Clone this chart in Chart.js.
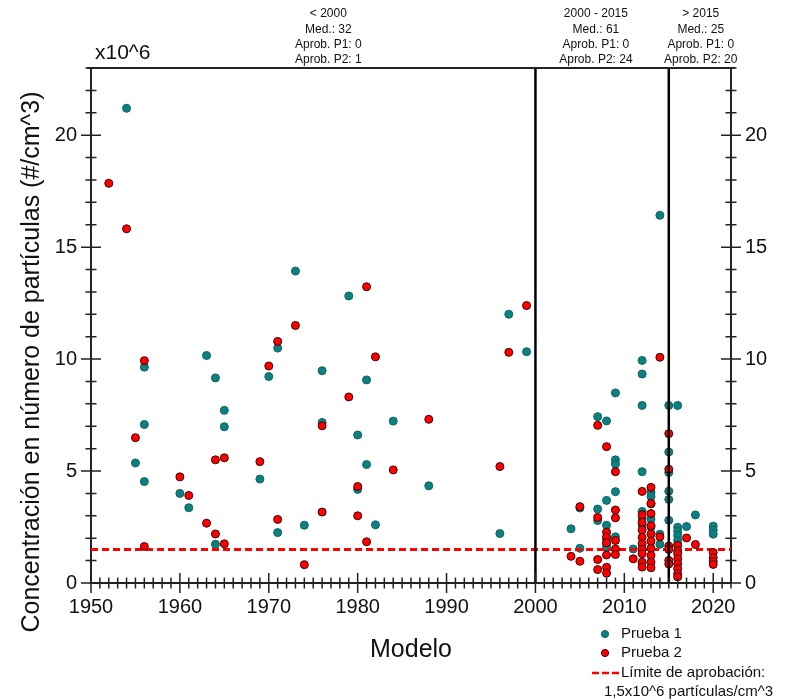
<!DOCTYPE html>
<html lang="es">
  <head>
    <meta charset="UTF-8" />
    <title>Concentración en número de partículas por modelo</title>
    <script src="https://cdn.jsdelivr.net/npm/chart.js"></script>
    <style>
      body { margin: 0; background: #ffffff; }
      #contenedor { width: 795px; height: 700px; }
    </style>
  </head>
  <body>
    <div id="contenedor"><canvas id="grafico"></canvas></div>

    <script>
      // Prueba 1: año del modelo y concentración (x10^6 #/cm^3)
      const modelosP1 = [
        1954, 1955, 1956, 1956, 1956, 1960, 1961, 1963, 1964, 1964, 1965, 1965,
        1969, 1970, 1971, 1971, 1973, 1974, 1976, 1976, 1979, 1980, 1980, 1981,
        1981, 1982, 1984, 1988, 1996, 1997, 1999,
        2004, 2005, 2005, 2007, 2007, 2007, 2008, 2008, 2008, 2008, 2008, 2008,
        2009, 2009, 2009, 2009, 2009, 2011, 2012, 2012, 2012, 2012, 2012, 2012,
        2012, 2013, 2013, 2013, 2013, 2013, 2014, 2014, 2014, 2015, 2015, 2015,
        2015, 2015, 2015, 2016, 2016, 2016, 2016, 2016, 2016, 2017, 2018, 2020,
        2020, 2020,
      ];
      const valoresP1 = [
        21.2, 5.36, 9.64, 7.08, 4.53, 4.0, 3.36, 10.16, 9.16, 1.73, 7.71, 6.98,
        4.64, 9.22, 10.49, 2.25, 13.93, 2.58, 9.48, 7.17, 12.82, 6.61, 4.18, 9.07,
        5.29, 2.6, 7.23, 4.34, 2.21, 12.0, 10.33,
        2.42, 3.35, 1.55, 7.43, 3.3, 2.79, 7.24, 3.69, 2.58, 1.95, 1.75, 1.6,
        8.49, 5.5, 5.31, 4.08, 2.06, 1.52, 9.94, 9.33, 7.93, 4.97, 3.19, 2.9,
        2.6, 4.05, 3.86, 3.53, 2.86, 2.5, 16.42, 2.18, 1.73, 7.93, 5.85, 4.93,
        4.1, 3.73, 2.8, 7.93, 2.49, 2.31, 2.12, 1.9, 1.7, 2.52, 3.04, 2.54,
        2.36, 2.18,
      ];

      // Prueba 2
      const modelosP2 = [
        1952, 1954, 1955, 1956, 1956, 1960, 1961, 1963, 1964, 1964, 1965, 1965,
        1969, 1970, 1971, 1971, 1973, 1974, 1976, 1976, 1979, 1980, 1980, 1981,
        1981, 1982, 1984, 1988, 1996, 1997, 1999,
        2004, 2005, 2005, 2007, 2007, 2007, 2007, 2008, 2008, 2008, 2008, 2008,
        2008, 2008, 2009, 2009, 2009, 2009, 2009, 2009, 2011, 2012, 2012, 2012,
        2012, 2012, 2012, 2012, 2012, 2012, 2012, 2013, 2013, 2013, 2013, 2013,
        2013, 2013, 2013, 2013, 2013, 2014, 2014, 2015, 2015, 2015, 2015, 2015,
        2015, 2016, 2016, 2016, 2016, 2016, 2016, 2016, 2016, 2017, 2018, 2020,
        2020, 2020, 2020,
      ];
      const valoresP2 = [
        17.85, 15.82, 6.49, 9.93, 1.63, 4.74, 3.91, 2.67, 5.5, 2.19, 5.59, 1.75,
        5.42, 9.69, 10.79, 2.84, 11.5, 0.82, 7.02, 3.17, 8.31, 4.31, 3.0, 13.23,
        1.84, 10.1, 5.05, 7.31, 5.2, 10.3, 12.39,
        1.19, 3.41, 0.97, 7.04, 2.93, 1.05, 0.6, 6.09, 2.27, 2.05, 1.8, 1.25,
        0.7, 0.44, 4.97, 3.26, 2.91, 1.9, 1.52, 1.27, 1.08, 4.09, 3.05, 2.71,
        2.37, 2.04, 1.75, 1.5, 1.31, 0.93, 0.71, 4.27, 3.56, 3.1, 2.56, 2.19,
        1.87, 1.55, 1.23, 0.93, 0.68, 10.08, 2.06, 6.67, 5.08, 1.65, 1.5, 1.01,
        0.85, 1.68, 1.45, 1.31, 1.08, 0.86, 0.64, 0.41, 0.27, 2.01, 1.72, 1.36,
        1.13, 0.96, 0.83,
      ];

      // límite de aprobación y cortes entre periodos
      const limiteAprobacion = 1.5;
      const cortesPeriodo = [2000, 2015];

      // resumen por periodo
      const periodos = ["< 2000", "2000 - 2015", "> 2015"];
      const mediciones = [32, 61, 25];
      const aprobadosP1 = [0, 0, 0];
      const aprobadosP2 = [1, 24, 20];

      const anioMin = 1950;
      const anioMax = 2022;
      const yMax = 23;

      Chart.defaults.font.family = "'Liberation Sans', Arial, sans-serif";
      Chart.defaults.color = "#111";

      function puntos(modelos, valores) {
        return modelos.map((m, i) => ({ x: m, y: valores[i] }));
      }

      // marcas de los ejes que cruzan la línea, marco superior y textos
      const marcasEjes = {
        id: "marcasEjes",
        afterDraw(chart) {
          const ctx = chart.ctx;
          const area = chart.chartArea;
          const { x, y, y2 } = chart.scales;

          ctx.save();
          ctx.strokeStyle = "#222";
          ctx.lineWidth = 1.5;
          ctx.beginPath();
          x.ticks.forEach((t) => {
            const px = x.getPixelForValue(t.value);
            const l = t.value % 10 === 0 ? 10 : 5.5;
            ctx.moveTo(px, area.bottom - l);
            ctx.lineTo(px, area.bottom + l);
          });
          [y, y2].forEach((eje) => {
            const bx = eje === y ? area.left : area.right;
            eje.ticks.forEach((t) => {
              const py = eje.getPixelForValue(t.value);
              const l = t.value % 5 === 0 ? 10 : 5.5;
              ctx.moveTo(bx - l, py);
              ctx.lineTo(bx + l, py);
            });
          });
          ctx.stroke();

          ctx.lineWidth = 2;
          ctx.beginPath();
          ctx.moveTo(area.left - 4, area.top);
          ctx.lineTo(area.right + 4, area.top);
          ctx.stroke();

          // factor de escala del eje
          ctx.fillStyle = "#111";
          ctx.font = "21px 'Liberation Sans', Arial";
          ctx.textAlign = "left";
          ctx.textBaseline = "alphabetic";
          ctx.fillText("x10^6", area.left + 4, area.top - 9);

          // título del eje y
          ctx.save();
          ctx.translate(32, 362);
          ctx.rotate(-Math.PI / 2);
          ctx.font = "25px 'Liberation Sans', Arial";
          ctx.textAlign = "center";
          ctx.textBaseline = "middle";
          ctx.fillText("Concentración en número de partículas (#/cm^3)", 0, 0);
          ctx.restore();

          // resumen de cada periodo encima del gráfico
          const centros = [1976.7, 2006.8, 2018.6];
          ctx.font = "12px 'Liberation Sans', Arial";
          ctx.textAlign = "center";
          ctx.textBaseline = "middle";
          periodos.forEach((p, i) => {
            const cx = x.getPixelForValue(centros[i]);
            const lineas = [
              p,
              "Med.: " + mediciones[i],
              "Aprob. P1: " + aprobadosP1[i],
              "Aprob. P2: " + aprobadosP2[i],
            ];
            lineas.forEach((txt, j) => ctx.fillText(txt, cx, 14 + j * 15.3));
          });

          // leyenda
          const ds = chart.data.datasets;
          ctx.font = "15px 'Liberation Sans', Arial";
          ctx.textAlign = "left";
          [ds[0], ds[1]].forEach((d, i) => {
            const ly = 634 + i * 19;
            ctx.beginPath();
            ctx.arc(605, ly, 3.6, 0, Math.PI * 2);
            ctx.fillStyle = d.backgroundColor;
            ctx.fill();
            ctx.lineWidth = 1;
            ctx.strokeStyle = d.borderColor;
            ctx.stroke();
            ctx.fillStyle = "#111";
            ctx.fillText(d.label, 621, ly);
          });
          ctx.strokeStyle = "#ff0000";
          ctx.lineWidth = 2.5;
          ctx.setLineDash([7, 3]);
          ctx.beginPath();
          ctx.moveTo(592, 673);
          ctx.lineTo(622, 673);
          ctx.stroke();
          ctx.setLineDash([]);
          ctx.fillStyle = "#111";
          ctx.fillText("Límite de aprobación:", 621, 673);
          ctx.fillText("1,5x10^6 partículas/cm^3", 604, 692);
          ctx.restore();
        },
      };

      function lineaVertical(anio) {
        return {
          label: "corte " + anio,
          data: [
            { x: anio, y: 0 },
            { x: anio, y: yMax },
          ],
          showLine: true,
          borderColor: "#000",
          borderWidth: 2.5,
          pointRadius: 0,
          order: 0,
        };
      }

      function etiquetaCada(paso) {
        return (v) => (v % paso === 0 ? v : "");
      }

      const ctx = document.getElementById("grafico").getContext("2d");
      new Chart(ctx, {
        type: "scatter",
        data: {
          datasets: [
            {
              label: "Prueba 1",
              data: puntos(modelosP1, valoresP1),
              backgroundColor: "#0e8080",
              borderColor: "#0a6464",
              borderWidth: 1,
              pointRadius: 4,
              order: 3,
            },
            {
              label: "Prueba 2",
              data: puntos(modelosP2, valoresP2),
              backgroundColor: "#ff0000",
              borderColor: "#400000",
              borderWidth: 1,
              pointRadius: 4,
              order: 1,
            },
            {
              label: "Límite de aprobación",
              data: [
                { x: anioMin, y: limiteAprobacion },
                { x: anioMax, y: limiteAprobacion },
              ],
              showLine: true,
              borderColor: "#ff0000",
              borderWidth: 3,
              borderDash: [7, 4],
              pointRadius: 0,
              order: 2,
            },
            ...cortesPeriodo.map(lineaVertical),
          ],
        },
        options: {
          responsive: true,
          maintainAspectRatio: false,
          animation: false,
          layout: { padding: { top: 68 } },
          plugins: {
            legend: { display: false },
            tooltip: { enabled: false },
          },
          scales: {
            x: {
              type: "linear",
              min: anioMin,
              max: anioMax,
              grid: { display: false, drawTicks: false },
              border: { display: true, color: "#222", width: 2 },
              ticks: {
                stepSize: 1,
                autoSkip: false,
                maxRotation: 0,
                padding: 12,
                font: { size: 20 },
                callback: etiquetaCada(10),
              },
              title: {
                display: true,
                text: "Modelo",
                font: { size: 25 },
                padding: { bottom: 35 },
              },
              afterFit: (s) => { s.height = 117; },
            },
            y: {
              position: "left",
              min: 0,
              max: yMax,
              grid: { display: false, drawTicks: false },
              border: { display: true, color: "#222", width: 2 },
              ticks: {
                stepSize: 1,
                autoSkip: false,
                padding: 14,
                font: { size: 20 },
                callback: etiquetaCada(5),
              },
              afterFit: (s) => { s.width = 91; },
            },
            y2: {
              position: "right",
              min: 0,
              max: yMax,
              grid: { display: false, drawTicks: false },
              border: { display: true, color: "#222", width: 2 },
              ticks: {
                stepSize: 1,
                autoSkip: false,
                padding: 14,
                font: { size: 20 },
                callback: etiquetaCada(5),
              },
              afterFit: (s) => { s.width = 64; },
            },
          },
        },
        plugins: [marcasEjes],
      });
    </script>
  </body>
</html>
